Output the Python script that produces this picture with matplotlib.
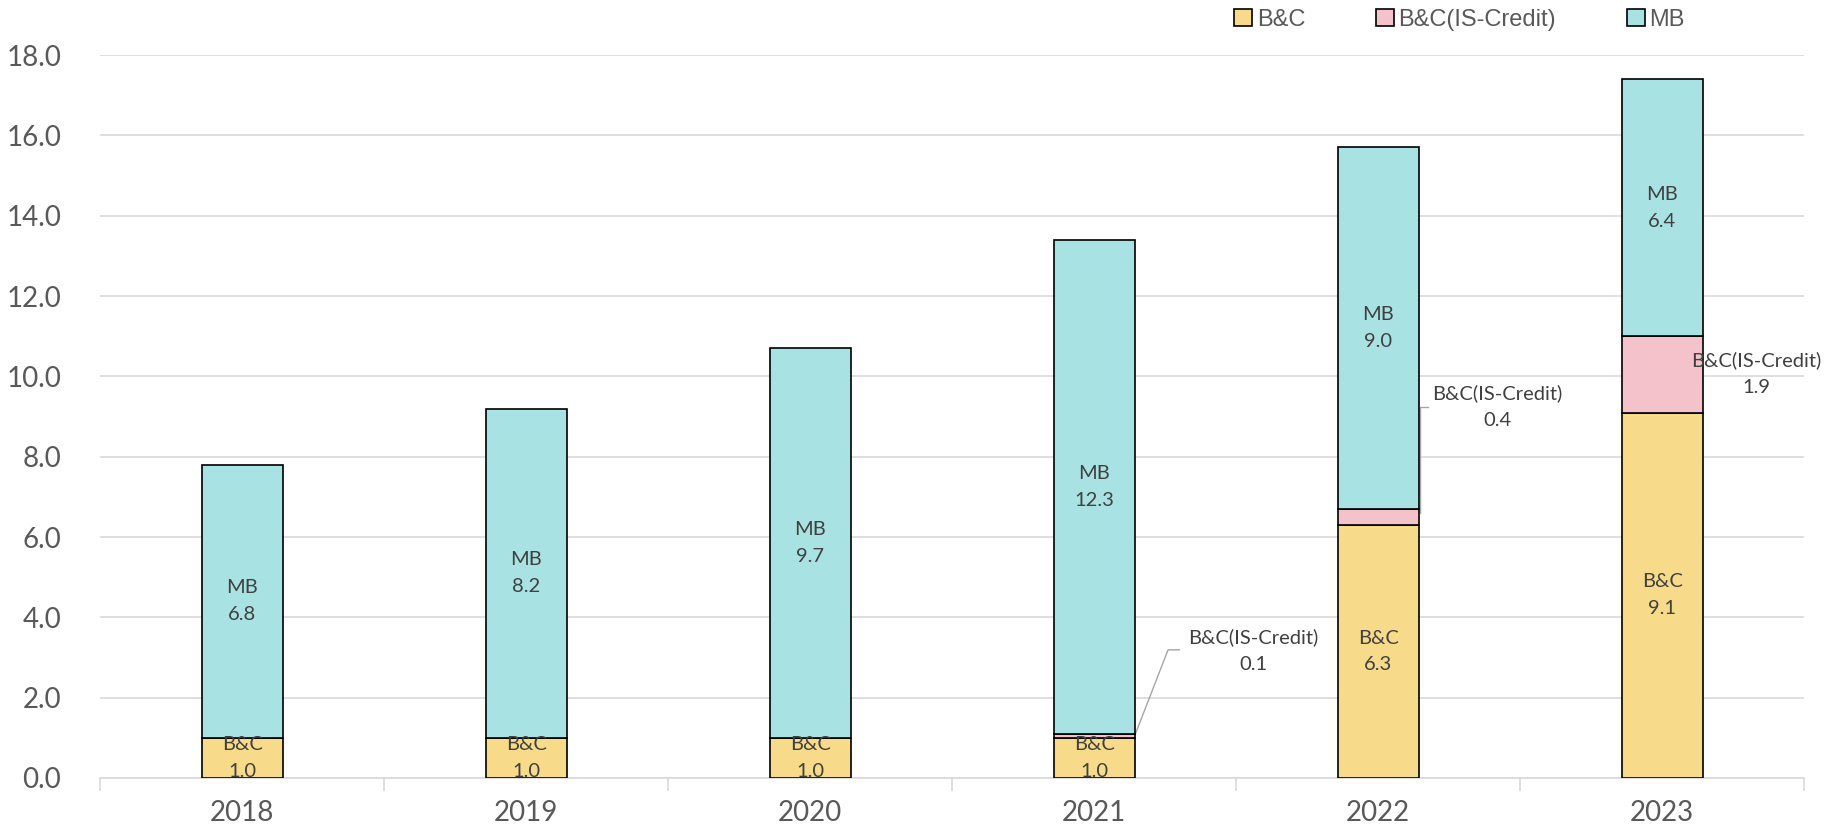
import numpy as np
import matplotlib
matplotlib.use("Agg")
import matplotlib.pyplot as plt

# data
years = ["2018", "2019", "2020", "2021", "2022", "2023"]
bc = [1.0, 1.0, 1.0, 1.0, 6.3, 9.1]
bc_is = [0.0, 0.0, 0.0, 0.1, 0.4, 1.9]
mb = [6.8, 8.2, 9.7, 12.3, 9.0, 6.4]

C_BC = "#F7DB8A"
C_IS = "#F4C2CB"
C_MB = "#A9E2E3"
TXT = "#404040"
TICK = "#595959"
LAB_FONT = ["Lato", "DejaVu Sans"]

fig = plt.figure(figsize=(18.43, 8.35), dpi=100)
ax = fig.add_axes([0.0543, 0.0683, 0.9247, 0.8657])

x = np.arange(len(years))
w = 0.285
bc = np.array(bc); bc_is = np.array(bc_is); mb = np.array(mb)
kw = dict(width=w, edgecolor="black", linewidth=1.2, zorder=3)
b1 = ax.bar(x, bc, color=C_BC, label="B&C", **kw)
b2 = ax.bar(x, bc_is, bottom=bc, color=C_IS, label="B&C(IS-Credit)", **kw)
b3 = ax.bar(x, mb, bottom=bc + bc_is, color=C_MB, label="MB", **kw)

# labels inside segments
for i in range(len(years)):
    ax.text(x[i], bc[i] / 2, f"B&C\n{bc[i]:.1f}", ha="center", va="center",
            fontsize=14.5, color=TXT, family=LAB_FONT, linespacing=1.7, zorder=4)
    ax.text(x[i], bc[i] + bc_is[i] + mb[i] / 2, f"MB\n{mb[i]:.1f}", ha="center",
            va="center", fontsize=14.5, color=TXT, family=LAB_FONT, linespacing=1.7, zorder=4)

# IS-Credit labels (outside)
is_pos = {3: (3.56, 3.16), 4: (4.42, 9.24), 5: (5.33, 10.08)}
for i, (tx, ty) in is_pos.items():
    ax.text(tx, ty, f"B&C(IS-Credit)\n{bc_is[i]:.1f}", ha="center", va="center",
            fontsize=14.5, color=TXT, family=LAB_FONT, linespacing=1.7, zorder=4)
# leader lines
ax.plot([3 + w / 2, 3.26, 3.30], [1.05, 3.19, 3.19], color="#A6A6A6", lw=1, zorder=2)
ax.plot([4 + w / 2 + 0.005, 4 + w / 2 + 0.005, 4.175], [6.6, 9.24, 9.24],
        color="#A6A6A6", lw=1, zorder=2)

ax.set_ylim(0, 18)
ax.set_xlim(-0.5, 5.5)
ax.set_yticks(np.arange(0, 18.1, 2))
ax.set_yticklabels([f"{v:.1f}" for v in np.arange(0, 18.1, 2)])
ax.yaxis.grid(True, color="#D9D9D9", lw=1.2, zorder=0)
ax.set_axisbelow(True)
for s in ["top", "right", "left"]:
    ax.spines[s].set_visible(False)
ax.spines["bottom"].set_color("#D9D9D9")
ax.spines["bottom"].set_linewidth(1.2)
ax.tick_params(axis="y", length=0, pad=28, labelsize=20, labelcolor=TICK)
for t in ax.get_yticklabels():
    t.set_family(LAB_FONT)

# x ticks: labels at centers, tick marks at boundaries
ax.set_xticks(x)
ax.set_xticklabels(years)
ax.tick_params(axis="x", length=0, pad=16, labelsize=20, labelcolor=TICK)
for t in ax.get_xticklabels():
    t.set_family(LAB_FONT)
ax.set_xticks(np.arange(-0.5, 6, 1), minor=True)
ax.tick_params(axis="x", which="minor", length=9, color="#D9D9D9", width=1.2)

leg = fig.legend(handles=[b1, b2, b3], loc="center", bbox_to_anchor=(0.792, 0.976),
                 ncol=3, frameon=False, handlelength=0.75, handleheight=0.75,
                 handletextpad=0.2, columnspacing=3.0,
                 prop={"family": ["Liberation Sans", "DejaVu Sans"], "size": 17})
for t in leg.get_texts():
    t.set_color(TICK)

fig.savefig("out.png", dpi=100)
